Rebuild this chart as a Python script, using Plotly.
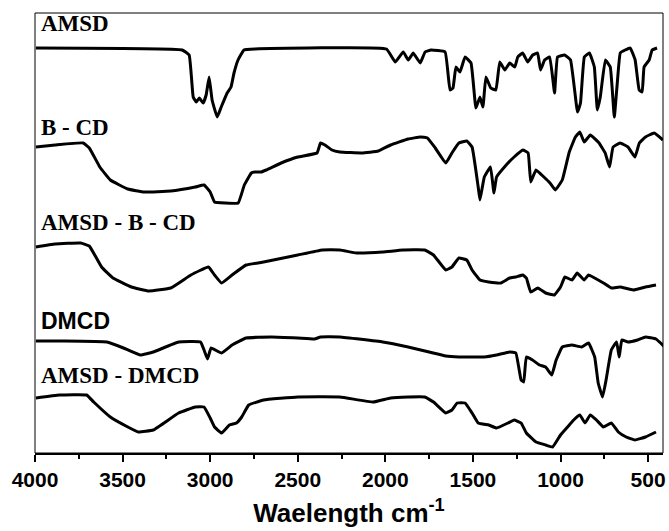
import plotly.graph_objects as go

# ---- data (wavenumber cm-1, transmittance in arbitrary offset units) ----
amsd_wn = [3995, 3160, 3120, 3097, 3080, 3062, 3040, 3023, 3006, 2989, 2960, 2937, 2903, 2881, 2864, 2841, 2807, 2744,
           1994, 1943, 1898, 1869, 1841, 1801, 1773, 1739, 1659, 1631, 1614, 1597, 1574, 1545, 1511, 1483, 1460, 1443,
           1426, 1398, 1369, 1347, 1318, 1290, 1261, 1244, 1216, 1187, 1159, 1131, 1114, 1091, 1062, 1034, 1017, 977,
           943, 903, 886, 864, 835, 807, 790, 773, 744, 716, 693, 676, 659, 631, 602, 574, 551, 534, 523, 494, 477, 449]
amsd_t = [405, 403, 398, 356, 351, 355, 350, 358, 376, 353, 336, 346, 360, 366, 380, 393, 403, 404,
          404, 391, 401, 393, 400, 390, 401, 403, 401, 363, 365, 386, 381, 396, 390, 345, 356, 346,
          376, 365, 363, 391, 383, 390, 386, 396, 400, 391, 398, 400, 383, 393, 396, 360, 396, 398,
          393, 341, 350, 396, 400, 386, 343, 356, 393, 386, 336, 370, 400, 403, 405, 393, 363, 361, 386, 393, 403, 405]

bcd_wn = [3995, 3885, 3725, 3690, 3630, 3570, 3470, 3375, 3225, 3085, 3035, 3000, 2975, 2915, 2840, 2805, 2765, 2745,
          2710, 2680, 2595, 2500, 2390, 2370, 2345, 2305, 2260, 2135, 2040, 1970, 1870, 1800, 1760, 1715, 1655, 1620,
          1580, 1535, 1505, 1470, 1460, 1435, 1400, 1380, 1365, 1310, 1265, 1215, 1185, 1170, 1140, 1095, 1060, 1030,
          990, 950, 915, 890, 865, 830, 780, 745, 720, 700, 660, 615, 575, 550, 515, 465, 415]
bcd_t = [306, 308, 310, 305, 286, 273, 264, 261, 262, 266, 268, 261, 251, 250, 250, 268, 280, 281,
         281, 283, 290, 296, 300, 310, 308, 303, 301, 300, 302, 308, 314, 316, 315, 305, 290, 300,
         310, 312, 306, 266, 253, 276, 286, 260, 276, 288, 296, 303, 300, 271, 283, 276, 270, 263,
         273, 301, 316, 321, 311, 318, 310, 300, 286, 306, 310, 306, 296, 310, 316, 320, 313]

amsdbcd_wn = [3995, 3885, 3740, 3690, 3620, 3555, 3450, 3350, 3225, 3110, 3010, 2975, 2935, 2875, 2795, 2695, 2500,
              2360, 2260, 2165, 2015, 1900, 1775, 1725, 1655, 1620, 1580, 1535, 1505, 1460, 1410, 1340, 1290, 1255,
              1215, 1195, 1170, 1130, 1085, 1035, 1000, 975, 935, 905, 865, 840, 805, 755, 710, 660, 585, 515, 455]
amsdbcd_t = [206, 209, 210, 207, 186, 175, 166, 162, 165, 178, 186, 178, 170, 178, 188, 191, 198,
             203, 203, 200, 201, 203, 203, 198, 183, 186, 195, 193, 183, 173, 171, 170, 175, 176,
             178, 175, 161, 165, 160, 158, 166, 176, 173, 180, 173, 178, 175, 170, 165, 166, 163, 166, 168]

dmcd_wn = [3995, 3835, 3590, 3495, 3400, 3325, 3180, 3055, 3035, 3015, 2995, 2935, 2875, 2795, 2650, 2500, 2405,
           2370, 2260, 2015, 1870, 1750, 1655, 1580, 1505, 1435, 1365, 1290, 1255, 1225, 1210, 1195, 1160, 1120,
           1085, 1050, 1025, 990, 935, 880, 840, 805, 785, 760, 740, 710, 680, 665, 650, 615, 560, 515, 455, 405]
dmcd_t = [112, 112, 111, 105, 98, 101, 111, 111, 103, 94, 105, 100, 108, 115, 116, 115, 114,
          116, 116, 111, 106, 101, 97, 96, 96, 96, 98, 101, 100, 73, 71, 96, 93, 88,
          86, 78, 93, 106, 108, 106, 110, 96, 70, 56, 73, 103, 111, 96, 113, 111, 113, 116, 114, 106]

amsddmcd_wn = [3995, 3860, 3705, 3665, 3570, 3470, 3410, 3325, 3180, 3085, 3035, 3000, 2975, 2935, 2890, 2850, 2820,
               2780, 2695, 2500, 2260, 2070, 1970, 1870, 1775, 1725, 1655, 1620, 1590, 1545, 1505, 1470, 1410, 1365,
               1300, 1265, 1225, 1195, 1140, 1085, 1045, 1000, 960, 925, 890, 860, 830, 795, 755, 710, 670, 625, 575,
               515, 455]
amsddmcd_t = [55, 58, 58, 51, 36, 26, 21, 23, 40, 46, 46, 35, 26, 20, 28, 30, 36,
              48, 53, 56, 56, 51, 55, 56, 56, 51, 40, 43, 50, 50, 40, 30, 28, 25,
              30, 33, 30, 20, 11, 8, 6, 18, 26, 33, 38, 30, 38, 33, 26, 30, 21, 16, 13,
              16, 21]

labels = ["AMSD", "B - CD", "AMSD - B - CD", "DMCD", "AMSD - DMCD"]
label_y = [430, 326, 231, 132, 78]
label_fonts = ["Liberation Serif", "Liberation Serif", "Liberation Serif", "Liberation Sans", "Liberation Serif"]

tick_vals = [4000, 3500, 3000, 2500, 2000, 1500, 1000, 500]
tick_text = [str(v) for v in tick_vals]

series = [(amsd_wn, amsd_t), (bcd_wn, bcd_t), (amsdbcd_wn, amsdbcd_t), (dmcd_wn, dmcd_t), (amsddmcd_wn, amsddmcd_t)]

fig = go.Figure()
for (wn, t), name in zip(series, labels):
    fig.add_trace(go.Scatter(x=wn, y=t, mode="lines", name=name,
                             line=dict(color="black", width=3, shape="spline", smoothing=0.3),
                             showlegend=False))

for txt, yv, fam in zip(labels, label_y, label_fonts):
    fig.add_annotation(x=3975, y=yv, xref="x", yref="y", text=txt, showarrow=False,
                       xanchor="left", yanchor="middle",
                       font=dict(family=fam, size=23, color="black", weight="bold"))

# thin frame
fig.add_shape(type="rect", xref="paper", yref="paper", x0=0, y0=0, x1=1, y1=1,
              line=dict(color="black", width=1), layer="above")

fig.update_layout(
    width=669, height=531,
    margin=dict(l=35, r=3, t=13, b=78),
    plot_bgcolor="white", paper_bgcolor="white",
    xaxis=dict(range=[4000, 415], tickmode="array", tickvals=tick_vals, ticktext=tick_text,
               ticks="outside", ticklen=7, tickwidth=2, tickcolor="black",
               showline=True, linewidth=2, linecolor="black", showgrid=False, zeroline=False,
               tickfont=dict(family="Liberation Sans", size=21, color="black", weight="bold"),
               minor=dict(tickvals=[3750, 3250, 2750, 2250, 1750, 1250, 750], ticks="outside",
                          ticklen=4, tickwidth=2, tickcolor="black", showgrid=False),
               title=dict(text="Waelength cm<sup>-1</sup>", standoff=14,
                          font=dict(family="Liberation Sans", size=26, color="black", weight="bold"))),
    yaxis=dict(range=[0, 440], showticklabels=False, ticks="", showgrid=False, zeroline=False,
               showline=False),
)

fig.write_html("out.html")
